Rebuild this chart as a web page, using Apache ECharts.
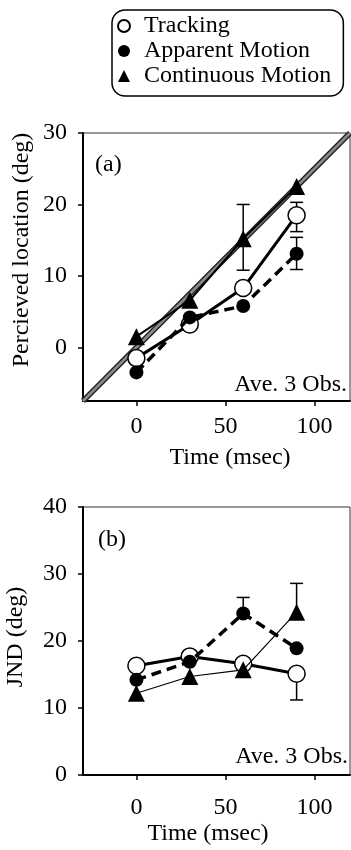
<!DOCTYPE html>
<html>
<head>
<meta charset="utf-8">
<script src="https://cdn.jsdelivr.net/npm/echarts@6/dist/echarts.min.js"></script>
<style>
  html, body { margin: 0; padding: 0; background: #fff; }
  #chart { width: 351px; height: 850px; }
</style>
</head>
<body>
<div id="chart"></div>
<script>
const FONT = 'Liberation Serif'
const FS = 24

// time points (msec)
const times = [0, 30, 60, 90]

// (a) perceived location (deg)
const locTracking = [-1.5, 3.2, 8.3, 18.5]
const locApparent = [-3.5, 4.2, 5.8, 13.1]
const locContinuous = [1.5, 6.6, 15.2, 22.5]
// veridical line: y = x / 4
const veridical = [[-30, -7.5], [120, 30]]
// error bars [time, low, high]
const locErr = [[90, 16.2, 20.3], [90, 10.9, 15.4], [60, 10.8, 20.0]]

// (b) JND (deg)
const jndTracking = [16.3, 17.7, 16.6, 15.1]
const jndApparent = [14.2, 16.9, 24.1, 18.9]
const jndContinuous = [12.2, 14.7, 15.7, 24.3]
// one-sided error bars [time, from, to]
const jndErr = [[60, 24.1, 26.5], [90, 24.3, 28.6], [90, 15.1, 11.2]]

const timeTicks = [0, 50, 100]
const locTicks = [0, 10, 20, 30]
const jndTicks = [0, 10, 20, 30, 40]

const pts = arr => times.map((t, i) => [t, arr[i]])

const chart = echarts.init(document.getElementById('chart'))

function xAxis(gridIndex, margin) {
  return {
    type: 'value', gridIndex, min: -30, max: 120,
    axisLine: { onZero: false, lineStyle: { color: '#000', width: 2 } },
    axisTick: { customValues: timeTicks, length: 5, lineStyle: { color: '#000', width: 1.5 } },
    axisLabel: { customValues: timeTicks, margin, color: '#000', fontSize: FS, fontFamily: FONT },
    splitLine: { show: false }
  }
}

function yAxis(gridIndex, min, max, ticks) {
  return {
    type: 'value', gridIndex, min, max,
    axisLine: { show: true, onZero: false, lineStyle: { color: '#000', width: 2 } },
    axisTick: { show: true, customValues: ticks, length: 5, lineStyle: { color: '#000', width: 1.5 } },
    axisLabel: { customValues: ticks, margin: 16, color: '#000', fontSize: FS, fontFamily: FONT },
    splitLine: { show: false }
  }
}

function errSeries(data, idx, twoSided) {
  return {
    type: 'custom', xAxisIndex: idx, yAxisIndex: idx, z: 1, silent: true,
    data,
    renderItem(params, api) {
      const x = api.value(0)
      const a = api.coord([x, api.value(1)])
      const b = api.coord([x, api.value(2)])
      const w = 6.5
      const st = { stroke: '#000', lineWidth: 1.5 }
      const children = [
        { type: 'line', shape: { x1: a[0], y1: a[1], x2: b[0], y2: b[1] }, style: st },
        { type: 'line', shape: { x1: b[0] - w, y1: b[1], x2: b[0] + w, y2: b[1] }, style: st }
      ]
      if (twoSided) {
        children.push({ type: 'line', shape: { x1: a[0] - w, y1: a[1], x2: a[0] + w, y2: a[1] }, style: st })
      }
      return { type: 'group', children }
    }
  }
}

function tracking(data, idx) {
  return {
    name: 'Tracking', type: 'line', xAxisIndex: idx, yAxisIndex: idx, z: 3,
    data, symbol: 'circle', symbolSize: 17,
    itemStyle: { color: '#fff', borderColor: '#000', borderWidth: 1.5 },
    lineStyle: { color: '#000', width: 3 }
  }
}

function apparent(data, idx) {
  return {
    name: 'Apparent Motion', type: 'line', xAxisIndex: idx, yAxisIndex: idx, z: 4,
    data, symbol: 'circle', symbolSize: 14,
    itemStyle: { color: '#000', borderColor: '#000', borderWidth: 0 },
    lineStyle: { color: '#000', width: 3.5, type: [10, 6] }
  }
}

function continuous(data, idx, width) {
  return {
    name: 'Continuous Motion', type: 'line', xAxisIndex: idx, yAxisIndex: idx, z: 5,
    data, symbol: 'triangle', symbolSize: 17,
    itemStyle: { color: '#000', borderColor: '#000', borderWidth: 0 },
    lineStyle: { color: '#000', width }
  }
}

function txt(text, x, y, align, rotation) {
  return {
    type: 'text', x, y, rotation: rotation || 0, silent: true,
    style: { text, fill: '#000', font: FS + 'px "' + FONT + '"', align: align || 'left', verticalAlign: 'middle' }
  }
}

chart.setOption({
  animation: false,
  backgroundColor: '#fff',
  legend: {
    left: 112, top: 10, orient: 'vertical', selectedMode: false,
    padding: [4, 12, 8, 5], itemGap: 1, itemWidth: 12, itemHeight: 12,
    borderColor: '#000', borderWidth: 1.5, borderRadius: 13,
    textStyle: { color: '#000', fontSize: FS, fontFamily: FONT, lineHeight: 24, padding: [0, 0, 0, 9] },
    data: [
      { name: 'Tracking', icon: 'circle' },
      { name: 'Apparent Motion', icon: 'circle' },
      { name: 'Continuous Motion', icon: 'triangle' }
    ]
  },
  grid: [
    { left: 83, top: 133, width: 267, height: 268, show: true, borderColor: '#333', borderWidth: 1 },
    { left: 83, top: 507, width: 267, height: 268, show: true, borderColor: '#333', borderWidth: 1 }
  ],
  xAxis: [xAxis(0, 14), xAxis(1, 21)],
  yAxis: [yAxis(0, -7.5, 30, locTicks), yAxis(1, 0, 40, jndTicks)],
  graphic: [
    txt('(a)', 95, 165),
    txt('Ave. 3 Obs.', 347, 385, 'right'),
    txt('Time (msec)', 230, 458, 'center'),
    txt('Percieved location (deg)', 22, 250, 'center', Math.PI / 2),
    txt('(b)', 98, 540),
    txt('Ave. 3 Obs.', 348, 757, 'right'),
    txt('Time (msec)', 208, 834, 'center'),
    txt('JND (deg)', 16, 637, 'center', Math.PI / 2)
  ],
  series: [
    { type: 'line', xAxisIndex: 0, yAxisIndex: 0, z: 0, silent: true, data: veridical, symbol: 'none',
      lineStyle: { color: '#222', width: 5.5 } },
    { type: 'line', xAxisIndex: 0, yAxisIndex: 0, z: 0, silent: true, data: veridical, symbol: 'none',
      lineStyle: { color: '#8c8c8c', width: 2.5 } },
    errSeries(locErr, 0, true),
    tracking(pts(locTracking), 0),
    apparent(pts(locApparent), 0),
    continuous(pts(locContinuous), 0, 2),
    errSeries(jndErr, 1, false),
    tracking(pts(jndTracking), 1),
    apparent(pts(jndApparent), 1),
    continuous(pts(jndContinuous), 1, 1.2)
  ]
})
</script>
</body>
</html>
